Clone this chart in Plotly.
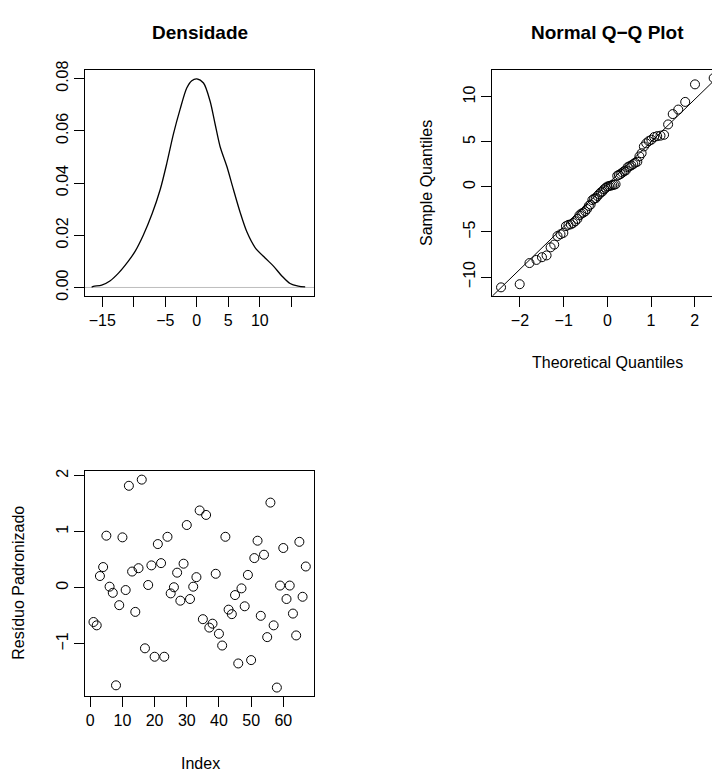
import plotly.graph_objects as go
from statistics import NormalDist

W, H = 712, 774
FONT = "Liberation Sans, Arial, Helvetica, sans-serif"

# ---------------- data ----------------
dens_x = [-16.7, -16.4, -15.1, -13.8, -12.4, -10.9, -9.8, -8.5, -7.1, -5.8, -4.76,
          -3.7, -2.65, -1.6, -0.8, 0.0, 1.06, 2.1, 2.9, 3.7, 4.76, 5.8, 6.87, 7.94,
          9.25, 10.84, 12.2, 13.5, 14.8, 16.1, 17.2]
dens_y = [0.0001, 0.0004, 0.0009, 0.0025, 0.0056, 0.0100, 0.0138, 0.0200, 0.0282,
          0.0376, 0.0476, 0.0589, 0.0683, 0.0764, 0.0792, 0.0799, 0.0783, 0.0714,
          0.0626, 0.0539, 0.0464, 0.0376, 0.0288, 0.0213, 0.0153, 0.0113, 0.0081,
          0.0044, 0.0015, 0.0005, 0.0002]

qq_sample = [-11.15, -10.8, -8.45, -8.1, -7.8, -7.6, -6.7, -6.4, -5.45, -5.25, -5.1,
             -4.35, -4.2, -4.15, -4.0, -3.8, -3.55, -3.15, -2.95, -2.85, -2.7,
             -2.45, -2.1, -1.95, -1.45, -1.3, -1.25, -1.0, -0.8, -0.6, -0.5,
             -0.25, -0.1, 0.05, 0.1, 0.15, 0.2, 0.25, 0.3,
             1.25, 1.35, 1.45, 1.6, 1.75, 1.85, 2.2, 2.3, 2.4, 2.55,
             2.7, 2.8, 3.4, 3.75, 4.5, 4.85, 5.1, 5.25, 5.55, 5.65,
             5.7, 5.8, 6.95, 8.1, 8.6, 9.45, 11.4, 12.1]
qq_line_intercept = 0.30
qq_line_slope = 4.716

resid = [-0.61, -0.67, 0.21, 0.37, 0.93, 0.02, -0.09, -1.74, -0.31, 0.90,
         -0.04, 1.82, 0.29, -0.43, 0.35, 1.93, -1.08, 0.05, 0.40, -1.23,
         0.78, 0.44, -1.23, 0.91, -0.10, 0.01, 0.27, -0.23, 0.43, 1.12,
         -0.20, 0.02, 0.19, 1.38, -0.56, 1.30, -0.71, -0.64, 0.25, -0.82,
         -1.03, 0.91, -0.39, -0.47, -0.13, -1.35, -0.01, -0.33, 0.23, -1.29,
         0.53, 0.84, -0.50, 0.59, -0.88, 1.52, -0.67, -1.78, 0.04, 0.71,
         -0.20, 0.04, -0.46, -0.85, 0.82, -0.16, 0.38]
index = list(range(1, len(resid) + 1))

dens_xticks = [-15, -10, -5, 0, 5, 10, 15]
dens_xtext = ["\u221215", "", "\u22125", "0", "5", "10", ""]
dens_yticks = [0.00, 0.02, 0.04, 0.06, 0.08]
qq_xticks = [-2, -1, 0, 1, 2]
qq_yticks = [-10, -5, 0, 5, 10]
res_xticks = [0, 10, 20, 30, 40, 50, 60]
res_yticks = [-1, 0, 1, 2]

# theoretical normal quantiles (as qqnorm does)
n = len(qq_sample)
nd = NormalDist()
qq_theo = [nd.inv_cdf((i - 0.5) / n) for i in range(1, n + 1)]

# ---------------- layout helpers ----------------
def px_x(v):
    return v / W

def px_y(v):
    return 1 - v / H

axis_common = dict(showline=True, linecolor="black", linewidth=1, mirror=True,
                   ticks="outside", ticklen=10, tickwidth=1, tickcolor="black",
                   showgrid=False, zeroline=False,
                   tickfont=dict(family=FONT, size=16, color="black"))

fig = go.Figure()

# Density
fig.add_trace(go.Scatter(x=dens_x, y=dens_y, mode="lines",
                         line=dict(color="black", width=1.3, shape="spline", smoothing=0.8),
                         xaxis="x", yaxis="y", showlegend=False))
# QQ
qq_xr = [-2.634, 2.634]
fig.add_trace(go.Scatter(x=qq_xr, y=[qq_line_intercept + qq_line_slope * v for v in qq_xr],
                         mode="lines", line=dict(color="black", width=1),
                         xaxis="x2", yaxis="y2", showlegend=False))
fig.add_trace(go.Scatter(x=qq_theo, y=qq_sample, mode="markers",
                         marker=dict(symbol="circle-open", size=9, color="black",
                                     line=dict(width=1, color="black")),
                         xaxis="x2", yaxis="y2", showlegend=False))
# Residuals
fig.add_trace(go.Scatter(x=index, y=resid, mode="markers",
                         marker=dict(symbol="circle-open", size=9, color="black",
                                     line=dict(width=1, color="black")),
                         xaxis="x3", yaxis="y3", showlegend=False))

top_dom = [px_y(292), px_y(62)]
bot_dom = [px_y(698.3), px_y(470)]

fig.update_layout(
    width=W, height=H, margin=dict(l=0, r=0, t=0, b=0),
    paper_bgcolor="white", plot_bgcolor="white",
    font=dict(family=FONT, size=16, color="black"),
    xaxis=dict(domain=[px_x(85), px_x(314)], range=[-17.75, 18.6], anchor="y",
               tickmode="array", tickvals=dens_xticks, ticktext=dens_xtext, **axis_common),
    yaxis=dict(domain=top_dom, range=[-0.0033, 0.0833], anchor="x",
               tickmode="array", tickvals=dens_yticks, tickformat=".2f",
               tickangle=-90, **axis_common),
    xaxis2=dict(domain=[px_x(492.3), 1.0], range=[-2.634, 2.396], anchor="y2",
                tickmode="array", tickvals=qq_xticks, **axis_common),
    yaxis2=dict(domain=top_dom, range=[-12.12, 13.0], anchor="x2",
                tickmode="array", tickvals=qq_yticks, tickangle=-90,
                **{**axis_common, "mirror": False}),
    xaxis3=dict(domain=[px_x(85), px_x(314.3)], range=[-1.64, 69.64], anchor="y3",
                tickmode="array", tickvals=res_xticks, **axis_common),
    yaxis3=dict(domain=bot_dom, range=[-1.923, 2.082], anchor="x3",
                tickmode="array", tickvals=res_yticks, tickangle=-90, **axis_common),
)

# gray zero line in density plot
fig.add_shape(type="line", xref="x domain", yref="y", x0=0, x1=1, y0=0, y1=0,
              line=dict(color="#BEBEBE", width=1), layer="below")

def ann(text, x, y, size=16, bold=False, angle=0):
    fig.add_annotation(text=f"<b>{text}</b>" if bold else text,
                       x=px_x(x), y=px_y(y), xref="paper", yref="paper",
                       xanchor="center", yanchor="middle", showarrow=False,
                       textangle=angle, font=dict(family=FONT, size=size, color="black"))

ann("Densidade", 199.5, 24, size=19, bold=True)
ann("Normal Q\u2212Q Plot", 607.3, 24, size=19, bold=True)
ann("Theoretical Quantiles", 607.3, 360)
ann("Sample Quantiles", 426, 177, angle=-90)
ann("Resíduo Padronizado", 18.5, 584, angle=-90)
ann("Index", 200, 767)

fig.write_html("out.html", config={"displayModeBar": False})
